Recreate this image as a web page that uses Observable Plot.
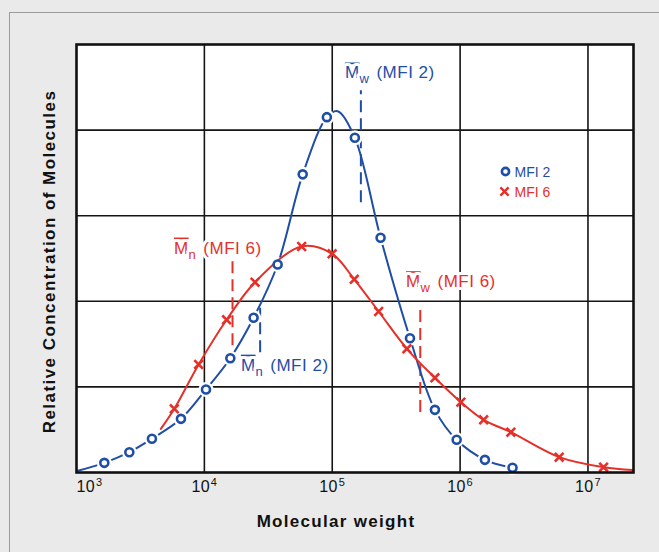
<!DOCTYPE html>
<html>
<head>
<meta charset="utf-8">
<script src="https://cdn.jsdelivr.net/npm/d3@7"></script>
<script src="https://cdn.jsdelivr.net/npm/@observablehq/plot@0.6"></script>
<style>
  html, body { margin: 0; padding: 0; }
  body { width: 659px; height: 552px; background: #eaeaea; position: relative; overflow: hidden;
         font-family: "Liberation Sans", Arial, Helvetica, sans-serif; }
  #border { position: absolute; left: 9px; top: 12px; right: -5px; bottom: -5px;
            border-left: 1.5px solid #9c9c9c; border-top: 1.5px solid #9c9c9c; }
  #chart { position: absolute; left: 0; top: 0; }
</style>
</head>
<body>
<div id="border"></div>
<div id="chart"></div>
<script>
// ---- Data ----
// MFI 2 measured points (molecular weight, relative concentration)
const mfi2Mw   = [1650, 2590, 3890, 6560, 10300, 15960, 24270, 37410, 58750, 90780, 150300, 238800, 405500, 635300, 939800, 1563000, 2570000];
const mfi2Conc = [0.113, 0.237, 0.394, 0.627, 0.970, 1.335, 1.807, 2.43, 3.483, 4.151, 3.91, 2.742, 1.569, 0.732, 0.382, 0.148, 0.055];
// MFI 2 drawn curve (read points along the hand-drawn curve)
const mfi2CurveMw   = [1023, 1650, 2590, 3890, 6560, 10300, 15960, 24270, 37410, 58750, 90780, 110200, 150300, 238800, 405500, 635300, 939800, 1563000, 2570000];
const mfi2CurveConc = [0.02, 0.113, 0.237, 0.394, 0.627, 0.970, 1.335, 1.807, 2.43, 3.483, 4.151, 4.22, 3.91, 2.742, 1.569, 0.732, 0.382, 0.148, 0.055];

// MFI 6 measured points
const mfi6Mw   = [5820, 9020, 14930, 24890, 57680, 99770, 148600, 230700, 383700, 635300, 1014000, 1528000, 2495000, 5957000, 13240000];
const mfi6Conc = [0.744, 1.262, 1.784, 2.223, 2.64, 2.555, 2.257, 1.881, 1.445, 1.106, 0.821, 0.615, 0.471, 0.179, 0.062];
// MFI 6 drawn curve
const mfi6CurveMw   = [4571, 5820, 9020, 14930, 24890, 57680, 99770, 148600, 230700, 383700, 635300, 1014000, 1528000, 2495000, 5957000, 13240000, 22390000];
const mfi6CurveConc = [0.51, 0.744, 1.262, 1.784, 2.223, 2.64, 2.555, 2.257, 1.881, 1.445, 1.106, 0.821, 0.615, 0.471, 0.179, 0.062, 0.03];

// Average molecular weight markers (dashed verticals)
const avgSeries = ["MFI 2", "MFI 6", "MFI 2", "MFI 6"];
const avgMw     = [167500, 16600, 27300, 488000];
const avgTop    = [4.46, 2.52, 1.92, 1.92];
const avgBottom = [3.15, 1.48, 1.40, 0.70];

// Annotation labels
const annotLabels = ["M_w (MFI 2)", "M_n (MFI 6)", "M_n (MFI 2)", "M_w (MFI 6)"];
const annotSeries = ["MFI 2", "MFI 6", "MFI 2", "MFI 6"];
const annotMw     = [125600, 5780, 19300, 377000];
const annotConc   = [4.603, 2.558, 1.19, 2.165];

// Axis ticks
const tickValues = [1e3, 1e4, 1e5, 1e6, 1e7];
const tickLabels = ["10^3", "10^4", "10^5", "10^6", "10^7"];
const gridX = [1e4, 1e5, 1e6, 1e7];
const gridY = [1, 2, 3, 4];

const legendLabels = ["MFI 2", "MFI 6"];
const xTitle = "Molecular weight";
const yTitle = "Relative Concentration of Molecules";

// ---- Build tables ----
const zip = (xs, ys) => xs.map((x, i) => ({mw: x, c: ys[i]}));
const mfi2Pts = zip(mfi2Mw, mfi2Conc);
const mfi6Pts = zip(mfi6Mw, mfi6Conc);
const mfi2Curve = zip(mfi2CurveMw, mfi2CurveConc);
const mfi6Curve = zip(mfi6CurveMw, mfi6CurveConc);
const avg = avgMw.map((m, i) => ({mw: m, top: avgTop[i], bottom: avgBottom[i], s: avgSeries[i]}));
const annots = annotLabels.map((t, i) => ({t, s: annotSeries[i], mw: annotMw[i], c: annotConc[i]}));

const BLUE = "#1f4ea6";
const RED = "#e5302a";
const col = s => s === "MFI 2" ? BLUE : RED;
const FONT = "'Liberation Sans', Arial, Helvetica, sans-serif";

const chart = Plot.plot({
  width: 659,
  height: 552,
  marginLeft: 76,
  marginRight: 26,
  marginTop: 44,
  marginBottom: 80,
  style: {background: "transparent", fontFamily: FONT, overflow: "visible"},
  x: {type: "log", domain: [1000, 22700000], axis: null},
  y: {domain: [0, 5], axis: null},
  marks: [
    Plot.frame({fill: "white", stroke: "none"}),
    Plot.ruleX(gridX, {x: d => d, stroke: "#151515", strokeWidth: 1.6}),
    Plot.ruleY(gridY, {y: d => d, stroke: "#151515", strokeWidth: 1.6}),
    // dashed average lines
    ...["MFI 2", "MFI 6"].map(s =>
      Plot.ruleX(avg.filter(d => d.s === s), {x: "mw", y1: "bottom", y2: "top", stroke: col(s), strokeWidth: 2, strokeDasharray: "12,6"})
    ),
    // annotation labels
    ...["MFI 2", "MFI 6"].map(s =>
      Plot.text(annots.filter(d => d.s === s), {x: "mw", y: "c", text: "t", textAnchor: "start", lineAnchor: "bottom",
        fill: col(s), stroke: "white", strokeWidth: 6, fontSize: 17})
    ),
    // MFI 2 curve and markers
    Plot.line(mfi2Curve, {x: "mw", y: "c", curve: "catmull-rom", stroke: BLUE, strokeWidth: 2}),
    Plot.dot(mfi2Pts, {x: "mw", y: "c", r: 7.5, fill: "white", stroke: "none"}),
    // MFI 6 curve and markers
    Plot.line(mfi6Curve, {x: "mw", y: "c", curve: "catmull-rom", stroke: RED, strokeWidth: 2}),
    Plot.dot(mfi6Pts, {x: "mw", y: "c", symbol: "times", r: 4, stroke: RED, strokeWidth: 2.6}),
    Plot.dot(mfi2Pts, {x: "mw", y: "c", r: 4, fill: "white", stroke: BLUE, strokeWidth: 2.6}),
    // frame
    Plot.frame({stroke: "#111", strokeWidth: 2.6}),
    // legend
    Plot.dot([legendLabels[0]], {frameAnchor: "top-right", dx: -128, dy: 127, r: 3.6, fill: "white", stroke: BLUE, strokeWidth: 2.6}),
    Plot.dot([legendLabels[1]], {frameAnchor: "top-right", dx: -129, dy: 147, symbol: "times", r: 3.8, stroke: RED, strokeWidth: 2.4}),
    Plot.text([legendLabels[0]], {frameAnchor: "top-right", dx: -119, dy: 132, text: d => d, textAnchor: "start", lineAnchor: "bottom", fill: BLUE, fontSize: 14}),
    Plot.text([legendLabels[1]], {frameAnchor: "top-right", dx: -119, dy: 152, text: d => d, textAnchor: "start", lineAnchor: "bottom", fill: RED, fontSize: 14}),
    // tick labels
    Plot.text(tickValues.slice(0, 1), {x: d => d, text: (d, i) => tickLabels[0], frameAnchor: "bottom", dy: 19, lineAnchor: "bottom", textAnchor: "start", fontSize: 16, fill: "#111"}),
    Plot.text(tickValues.slice(1), {x: d => d, text: (d, i) => tickLabels[i + 1], frameAnchor: "bottom", dy: 19, lineAnchor: "bottom", textAnchor: "middle", fontSize: 16, fill: "#111"}),
    // axis titles
    Plot.text([xTitle], {frameAnchor: "bottom", dx: -19, dy: 54, text: d => d, textAnchor: "middle", lineAnchor: "bottom", fontSize: 17, fontWeight: "bold", fill: "#111"}),
    Plot.text([yTitle], {frameAnchor: "left", dx: -22, dy: 3, text: d => d, rotate: -90, textAnchor: "middle", lineAnchor: "bottom", fontSize: 17, fontWeight: "bold", fill: "#111"})
  ]
});

// Post-process text: overlined M with subscript, superscript exponents, letter spacing
d3.select(chart).selectAll("text").each(function() {
  const t = this.textContent;
  const s = d3.select(this);
  let m = t.match(/^M_(\w) (.*)$/);
  if (m) {
    s.text(null).attr("letter-spacing", "0.5px");
    s.append("tspan").attr("text-decoration", "overline").text("M");
    s.append("tspan").attr("font-size", "13px").attr("dy", "5").text(m[1]);
    s.append("tspan").attr("dy", "-5").attr("dx", "7").text(m[2]);
    return;
  }
  m = t.match(/^(\d+)\^(\d+)$/);
  if (m) {
    s.text(null).attr("letter-spacing", "0.3px");
    s.append("tspan").text(m[1]);
    s.append("tspan").attr("font-size", "11px").attr("dy", "-6").attr("dx", "1").text(m[2]);
    return;
  }
  if (t === xTitle) s.attr("letter-spacing", "1.3px");
  if (t === yTitle) s.attr("letter-spacing", "1.45px");
});

document.getElementById("chart").appendChild(chart);
</script>
</body>
</html>
